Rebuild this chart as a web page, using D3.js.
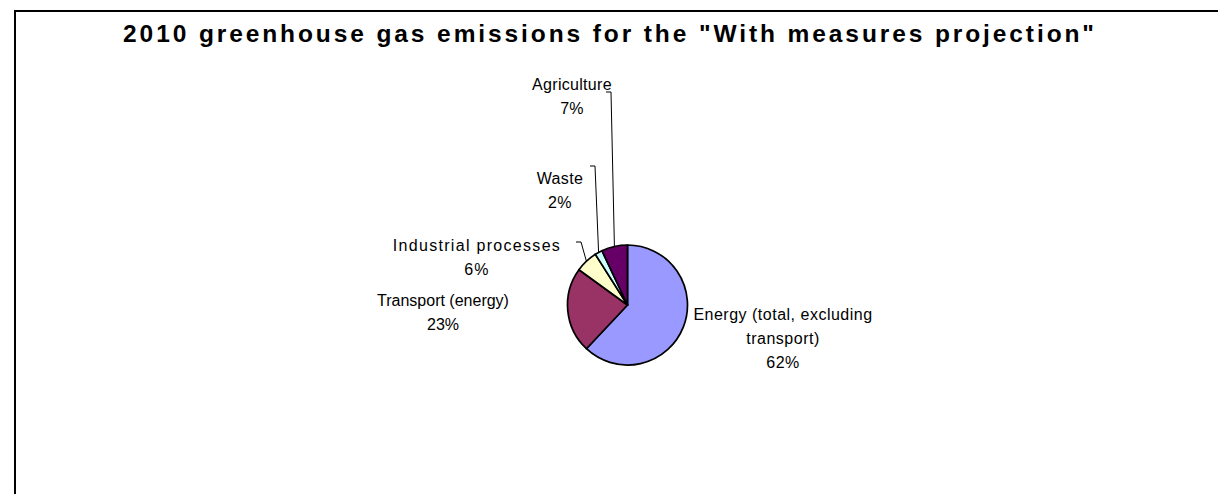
<!DOCTYPE html>
<html>
<head>
<meta charset="utf-8">
<script src="https://cdn.jsdelivr.net/npm/d3@7/dist/d3.min.js"></script>
<style>
  html, body { margin: 0; padding: 0; background: #fff; }
  svg { display: block; }
</style>
</head>
<body>
<script>
// ---- data ----
const categories = ["Energy (total, excluding transport)", "Transport (energy)", "Industrial processes", "Waste", "Agriculture"];
const values = [62, 23, 6, 2, 7];
const percentLabels = ["62%", "23%", "6%", "2%", "7%"];
const labelLines = [["Energy (total, excluding", "transport)"], ["Transport (energy)"], ["Industrial processes"], ["Waste"], ["Agriculture"]];
const colors = ["#9999FF", "#993366", "#FFFFCC", "#CCFFFF", "#660066"];
const title = "2010 greenhouse gas emissions for the \"With measures projection\"";

// ---- layout ----
const W = 1218, H = 494;
const cx = 627.5, cy = 305, R = 60;
const labelLayout = [
  { x: 783, y: 314, ls: 0.5, leader: null },
  { x: 443, y: 300, ls: 0, leader: null },
  { x: 477, y: 245, ls: 1.3, leader: { x: 576, y: 242 } },
  { x: 560, y: 178, ls: 0.4, leader: { x: 590, y: 166 } },
  { x: 572, y: 84, ls: 0.3, leader: { x: 606, y: 92 } }
];
const lineH = 24;

const svg = d3.select("body").append("svg").attr("width", W).attr("height", H);

svg.append("rect")
  .attr("x", 15).attr("y", 11)
  .attr("width", W + 20).attr("height", H + 20)
  .attr("fill", "#fff").attr("stroke", "#000").attr("stroke-width", 2);

svg.append("text")
  .attr("x", 610).attr("y", 33)
  .attr("dy", "0.35em")
  .attr("text-anchor", "middle")
  .attr("font-family", "Liberation Sans, Arial, sans-serif")
  .attr("font-weight", "bold")
  .attr("font-size", 24.5)
  .attr("letter-spacing", 2.9)
  .attr("fill", "#000")
  .text(title);

const data = categories.map((c, i) => ({ cat: c, value: values[i], i }));
const pie = d3.pie().sort(null).value(d => d.value);
const arcs = pie(data);
const arc = d3.arc().innerRadius(0).outerRadius(R);

const g = svg.append("g").attr("transform", `translate(${cx},${cy})`);
g.selectAll("path.slice")
  .data(arcs)
  .enter().append("path")
  .attr("class", "slice")
  .attr("d", arc)
  .attr("fill", d => colors[d.data.i])
  .attr("stroke", "#000")
  .attr("stroke-width", 1.7)
  .attr("stroke-linejoin", "round");

arcs.forEach(a => {
  const L = labelLayout[a.data.i];
  if (!L.leader) return;
  const ang = (a.startAngle + a.endAngle) / 2;
  const ex = cx + R * Math.sin(ang), ey = cy - R * Math.cos(ang);
  svg.append("path")
    .attr("d", d3.line()([[L.leader.x, L.leader.y], [L.leader.x + 5, L.leader.y], [ex, ey]]))
    .attr("fill", "none")
    .attr("stroke", "#000")
    .attr("stroke-width", 1);
});

arcs.forEach(a => {
  const i = a.data.i;
  const L = labelLayout[i];
  const lines = labelLines[i].concat([percentLabels[i]]);
  const t = svg.append("text")
    .attr("text-anchor", "middle")
    .attr("font-family", "Liberation Sans, Arial, sans-serif")
    .attr("font-size", 16)
    .attr("fill", "#000");
  lines.forEach((ln, k) => {
    t.append("tspan")
      .attr("x", L.x)
      .attr("y", L.y + k * lineH)
      .attr("dy", "0.35em")
      .attr("letter-spacing", L.ls)
      .text(ln);
  });
});
</script>
</body>
</html>
